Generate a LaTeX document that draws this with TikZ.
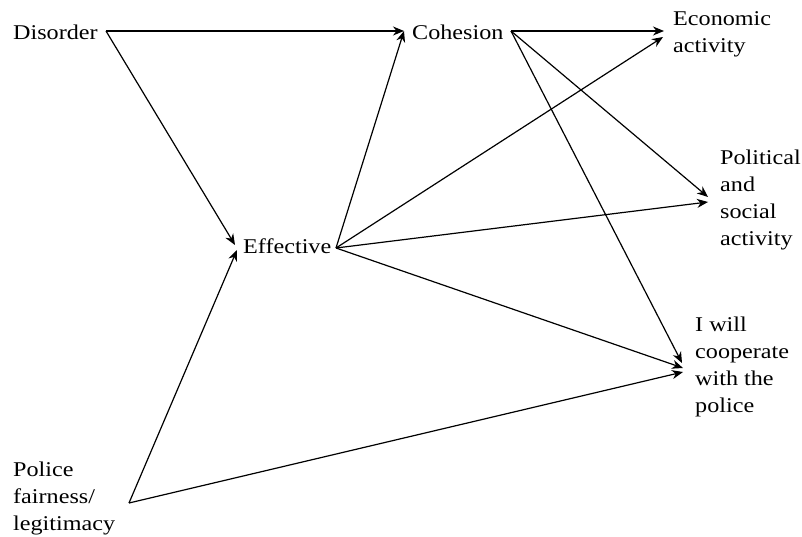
\documentclass[tikz,border=0pt]{standalone}
\usepackage{fontspec}
\setmainfont{Liberation Serif}[FakeStretch=1.15]
\usetikzlibrary{arrows.meta}
\begin{document}
\begin{tikzpicture}[x=1pt,y=-1pt,
  lbl/.style={inner sep=0pt,anchor=base west,align=left,font=\fontsize{21}{27}\selectfont},
  link/.style={line width=1.2pt,-{Stealth[length=11pt,width=9pt,inset=3.5pt]}}]
\useasboundingbox (0,0) rectangle (802,537);
\node[lbl] (dis) at (13,40) {Disorder};
\node[lbl] (coh) at (412,40) {Cohesion};
\node[lbl] (eff) at (243,253) {Effective};
\node[lbl] (eco) at (673,53) {Economic\\activity};
\node[lbl] (pol) at (720,245) {Political\\and\\social\\activity};
\node[lbl] (coop) at (695,412) {I will\\cooperate\\with the\\police};
\node[lbl] (fair) at (13,530) {Police\\fairness/\\legitimacy};
\coordinate (disE) at (106,31);
\coordinate (cohIn) at (404,31);
\coordinate (cohE) at (511,31);
\coordinate (ecoIn1) at (664,31);
\coordinate (ecoIn2) at (663,37);
\coordinate (effIn1) at (235,245);
\coordinate (effIn2) at (237,250);
\coordinate (effE) at (336,248);
\coordinate (polIn1) at (708,197);
\coordinate (polIn2) at (708,202);
\coordinate (coopIn1) at (682,363);
\coordinate (coopIn2) at (683,368);
\coordinate (coopIn3) at (683,372);
\coordinate (fairE) at (129,503);
\draw[link] (disE) -- (cohIn);
\draw[link] (disE) -- (effIn1);
\draw[link] (effE) -- (cohIn);
\draw[link] (cohE) -- (ecoIn1);
\draw[link] (cohE) -- (polIn1);
\draw[link] (cohE) -- (coopIn1);
\draw[link] (effE) -- (ecoIn2);
\draw[link] (effE) -- (polIn2);
\draw[link] (effE) -- (coopIn2);
\draw[link] (fairE) -- (effIn2);
\draw[link] (fairE) -- (coopIn3);
\end{tikzpicture}
\end{document}
